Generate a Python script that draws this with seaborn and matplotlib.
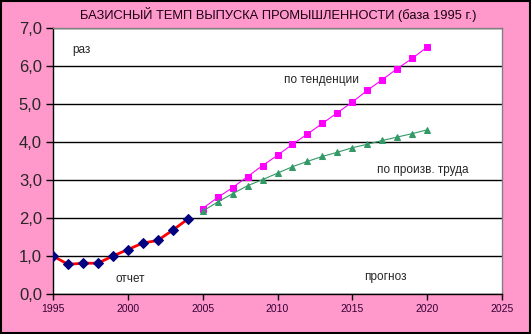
import matplotlib
matplotlib.use("Agg")
import matplotlib.pyplot as plt
import seaborn as sns
import pandas as pd
from matplotlib.ticker import FuncFormatter, MultipleLocator

years_fact = [1995, 1996, 1997, 1998, 1999, 2000, 2001, 2002, 2003, 2004]
fact = [1.00, 0.78, 0.81, 0.81, 1.00, 1.17, 1.34, 1.41, 1.68, 1.97]

years_fc = list(range(2005, 2021))
trend = [2.25, 2.54, 2.80, 3.09, 3.38, 3.65, 3.94, 4.21, 4.49, 4.77,
         5.05, 5.36, 5.64, 5.93, 6.20, 6.50]
labor = [2.18, 2.42, 2.64, 2.85, 3.01, 3.18, 3.35, 3.49, 3.62, 3.73,
         3.85, 3.94, 4.04, 4.13, 4.22, 4.32]

title = "БАЗИСНЫЙ ТЕМП ВЫПУСКА ПРОМЫШЛЕННОСТИ (база 1995 г.)"

sns.set_style("white")
plt.rcParams['font.family'] = ['Liberation Sans', 'DejaVu Sans']

fig = plt.figure(figsize=(5.31, 3.34), dpi=100)
fig.patch.set_facecolor('#FF99CC')
ax = fig.add_axes([53/531, 40/334, (502-53)/531, (294-28)/334])
ax.set_facecolor('white')

df_fact = pd.DataFrame({'year': years_fact, 'v': fact})
df_tr = pd.DataFrame({'year': years_fc, 'v': trend})
df_lb = pd.DataFrame({'year': years_fc, 'v': labor})

sns.lineplot(data=df_fact, x='year', y='v', ax=ax, color='#FF0000', lw=2,
             marker='D', markersize=5, markerfacecolor='#000080',
             markeredgecolor='#000080', zorder=4)
sns.lineplot(data=df_tr, x='year', y='v', ax=ax, color='#FF00FF', lw=0.8,
             marker='s', markersize=4.5, markerfacecolor='#FF00FF',
             markeredgecolor='#FF00FF', zorder=4)
sns.lineplot(data=df_lb, x='year', y='v', ax=ax, color='#339966', lw=0.8,
             marker='^', markersize=5, markerfacecolor='#339966',
             markeredgecolor='#339966', zorder=4)

ax.set_xlim(1995, 2025)
ax.set_ylim(0, 7)
ax.xaxis.set_major_locator(MultipleLocator(5))
ax.yaxis.set_major_locator(MultipleLocator(1))
ax.yaxis.set_major_formatter(FuncFormatter(lambda v, p: f"{v:.1f}".replace('.', ',')))
ax.set_xlabel('')
ax.set_ylabel('')
ax.grid(axis='y', color='black', lw=1)
ax.grid(axis='x', visible=False)
ax.set_axisbelow(True)

for s in ['top', 'right']:
    ax.spines[s].set_color('#808080')
    ax.spines[s].set_linewidth(1)
for s in ['left', 'bottom']:
    ax.spines[s].set_color('black')
    ax.spines[s].set_linewidth(1)

ax.tick_params(axis='y', direction='out', length=5, width=1, color='black',
               labelsize=12, pad=3, left=True)
ax.tick_params(axis='x', direction='out', length=4, width=1, color='black',
               labelsize=7.5, pad=3, labelcolor='#330033', bottom=True)

fig.text(278.5/531, 1 - 15/334, title, ha='center', va='center', fontsize=9.3,
         color='#1a0010')
ax.text(1996.27, 6.42, "раз", fontsize=8.5, va='center')
ax.text(2012.97, 5.63, "по тенденции", fontsize=8.5, va='center', ha='center')
ax.text(2019.7, 3.26, "по произв. труда", fontsize=8.5, va='center', ha='center')
ax.text(2000.14, 0.39, "отчет", fontsize=8.5, va='center', ha='center')
ax.text(2017.2, 0.45, "прогноз", fontsize=8.5, va='center', ha='center')

border = plt.Rectangle((0.001, 0.002), 0.997, 0.995, transform=fig.transFigure,
                       fill=False, edgecolor='black', lw=1.5)
fig.patches.append(border)

fig.savefig('out.png', dpi=100, facecolor=fig.get_facecolor())
